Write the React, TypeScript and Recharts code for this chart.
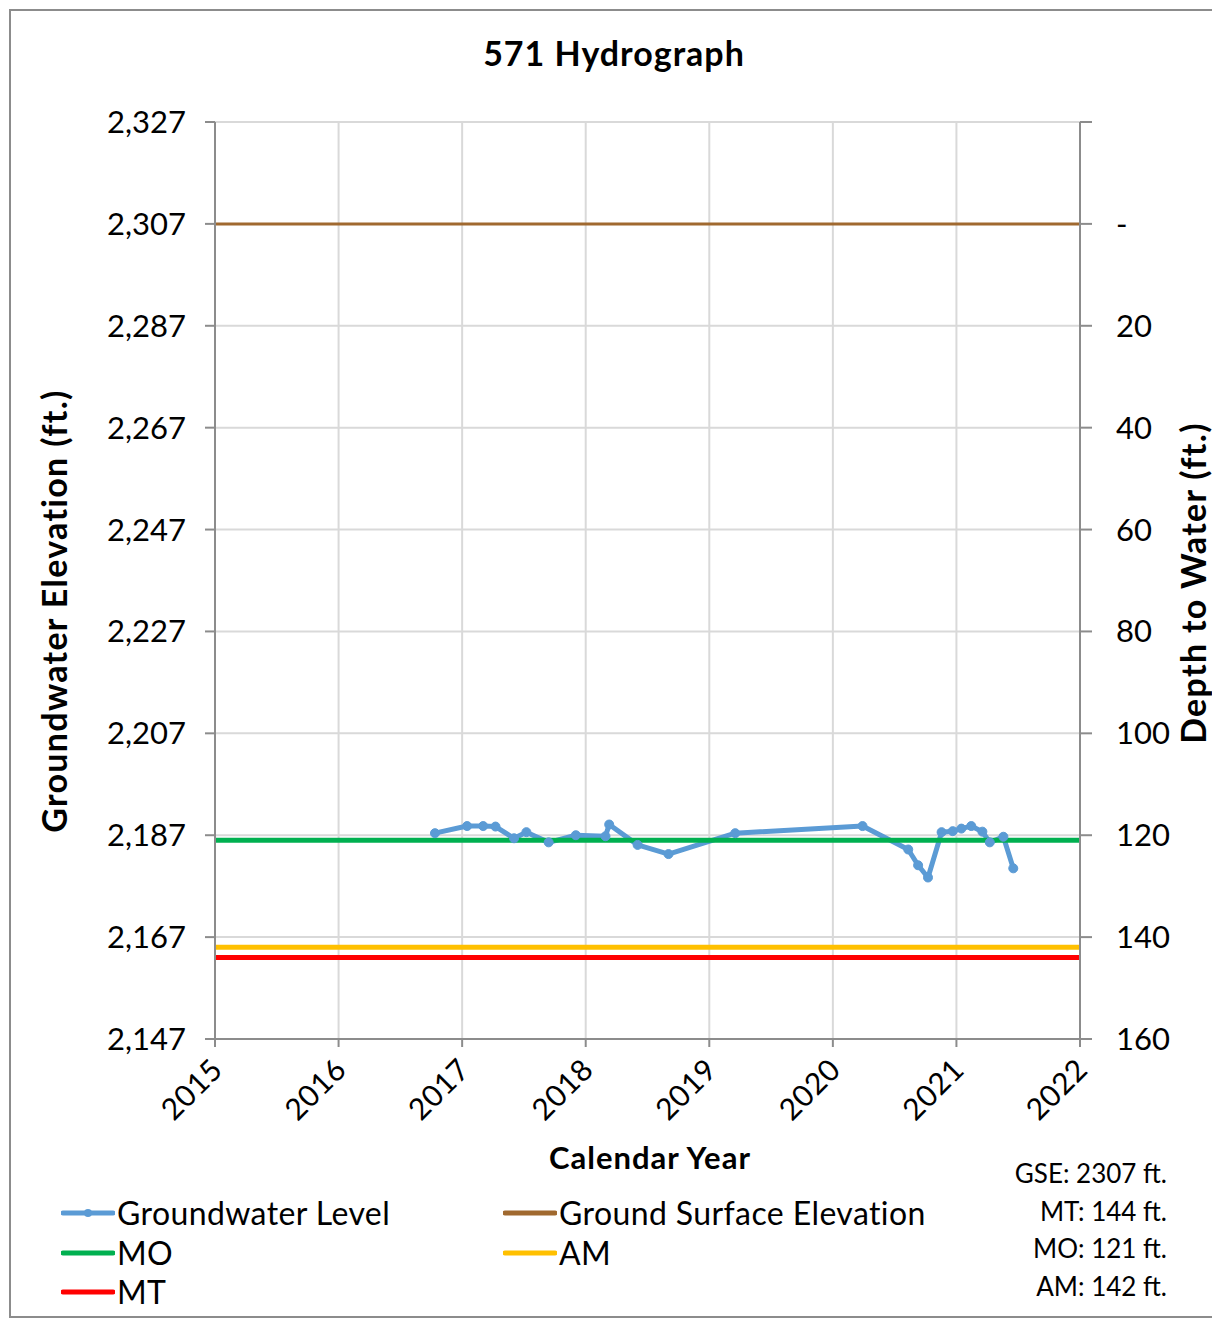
import React from "react";
import {
  ComposedChart,
  Line,
  XAxis,
  YAxis,
  CartesianGrid,
} from "recharts";

const years = [2015, 2016, 2017, 2018, 2019, 2020, 2021, 2022];
const elevTicks = [2147, 2167, 2187, 2207, 2227, 2247, 2267, 2287, 2307, 2327];
const depthTicks = [-20, 0, 20, 40, 60, 80, 100, 120, 140, 160];

// groundwater level readings (decimal year, elevation ft)
const gwYears = [
  2016.78, 2017.04, 2017.17, 2017.27, 2017.42, 2017.52, 2017.7, 2017.92,
  2018.16, 2018.19, 2018.42, 2018.67, 2019.21, 2020.24, 2020.61, 2020.69,
  2020.77, 2020.88, 2020.97, 2021.04, 2021.12, 2021.21, 2021.27, 2021.38,
  2021.46,
];
const gwElev = [
  2187.4, 2188.8, 2188.8, 2188.7, 2186.4, 2187.6, 2185.6, 2187.0,
  2186.8, 2189.1, 2185.1, 2183.3, 2187.4, 2188.8, 2184.2, 2181.1,
  2178.7, 2187.6, 2187.8, 2188.3, 2188.8, 2187.7, 2185.6, 2186.7,
  2180.5,
];

const GSE = 2307;
const MT_DEPTH = 144;
const MO_DEPTH = 121;
const AM_DEPTH = 142;

const gwData = gwYears.map((year, i) => ({ year, elev: gwElev[i] }));
const flat = (v: number) => [
  { year: years[0], v },
  { year: years[years.length - 1], v },
];

const FONT = "Lato, 'Open Sans', sans-serif";
const AXIS = "#8c8c8c";

const COLORS = {
  gw: "#5B9BD5",
  gse: "#A0692F",
  mo: "#00B050",
  am: "#FFC000",
  mt: "#FF0000",
};

function YearTick(props: any) {
  const { x, y, payload } = props;
  const ax = x + 1;
  const ay = y + 14;
  return (
    <text
      x={ax}
      y={ay}
      transform={`rotate(-45, ${ax}, ${ay})`}
      textAnchor="end"
      dominantBaseline="central"
      fontFamily={FONT}
      fontSize={30}
      letterSpacing={0.5}
      fill="#000"
    >
      {payload.value}
    </text>
  );
}

function LegendItem({
  color,
  label,
  dot,
  left,
  top,
}: {
  color: string;
  label: string;
  dot?: boolean;
  left: number;
  top: number;
}) {
  return (
    <div style={{ position: "absolute", left, top, display: "flex", alignItems: "center" }}>
      <svg width={54} height={12}>
        <line x1={2} y1={6} x2={52} y2={6} stroke={color} strokeWidth={5} strokeLinecap="round" />
        {dot && <circle cx={27} cy={6} r={4} fill={color} />}
      </svg>
      <span
        style={{
          fontFamily: FONT,
          fontSize: 32,
          letterSpacing: 0.4,
          marginLeft: 2,
          lineHeight: "36px",
        }}
      >
        {label}
      </span>
    </div>
  );
}

export default function App() {
  return (
    <div
      style={{
        position: "absolute",
        left: 0,
        top: 0,
        width: 1212,
        height: 1319,
        overflow: "hidden",
        background: "#fff",
        fontFamily: FONT,
      }}
    >
      <div
        style={{
          position: "absolute",
          left: 9,
          top: 9,
          width: 1230,
          height: 1305,
          border: `2px solid ${AXIS}`,
        }}
      />
      <div
        style={{
          position: "absolute",
          left: 0,
          top: 33,
          width: 1228,
          textAlign: "center",
          fontSize: 34,
          letterSpacing: 1,
          fontWeight: 700,
          lineHeight: "40px",
        }}
      >
        571 Hydrograph
      </div>

      <div style={{ position: "absolute", left: 0, top: 0 }}>
        <ComposedChart
          width={1212}
          height={1319}
          margin={{ top: 122, right: 0, bottom: 0, left: 0 }}
        >
          <CartesianGrid yAxisId="elev" stroke="#d9d9d9" strokeWidth={2} verticalValues={years} />
          <XAxis
            dataKey="year"
            type="number"
            domain={[2015, 2022]}
            ticks={years}
            allowDataOverflow
            height={280}
            stroke={AXIS}
            strokeWidth={2}
            tickSize={8}
            tick={<YearTick />}
            interval={0}
          />
          <YAxis
            yAxisId="elev"
            orientation="left"
            domain={[2147, 2327]}
            ticks={elevTicks}
            width={215}
            stroke={AXIS}
            strokeWidth={2}
            tickSize={10}
            tickMargin={19}
            interval={0}
            tickFormatter={(v: number) => v.toLocaleString("en-US")}
            tick={{ fill: "#000", fontSize: 31, fontFamily: FONT }}
          />
          <YAxis
            yAxisId="depth"
            orientation="right"
            domain={[-20, 160]}
            reversed
            ticks={depthTicks}
            width={132}
            stroke={AXIS}
            strokeWidth={2}
            tickSize={12}
            tickMargin={24}
            interval={0}
            tickFormatter={(v: number) => (v < 0 ? "" : v === 0 ? "-" : String(v))}
            tick={{ fill: "#000", fontSize: 31, fontFamily: FONT }}
          />
          <Line
            yAxisId="elev"
            data={flat(GSE)}
            dataKey="v"
            stroke={COLORS.gse}
            strokeWidth={3}
            dot={false}
            isAnimationActive={false}
          />
          <Line
            yAxisId="depth"
            data={flat(AM_DEPTH)}
            dataKey="v"
            stroke={COLORS.am}
            strokeWidth={5}
            dot={false}
            isAnimationActive={false}
          />
          <Line
            yAxisId="depth"
            data={flat(MT_DEPTH)}
            dataKey="v"
            stroke={COLORS.mt}
            strokeWidth={5}
            dot={false}
            isAnimationActive={false}
          />
          <Line
            yAxisId="elev"
            data={gwData}
            dataKey="elev"
            stroke={COLORS.gw}
            strokeWidth={5}
            strokeLinejoin="round"
            dot={{ r: 4.5, fill: COLORS.gw, stroke: COLORS.gw, strokeWidth: 1 }}
            isAnimationActive={false}
          />
          <Line
            yAxisId="depth"
            data={flat(MO_DEPTH)}
            dataKey="v"
            stroke={COLORS.mo}
            strokeWidth={5}
            dot={false}
            isAnimationActive={false}
          />
        </ComposedChart>
      </div>

      <div
        style={{
          position: "absolute",
          left: 53,
          top: 611,
          transform: "translate(-50%, -50%) rotate(-90deg)",
          whiteSpace: "nowrap",
          fontSize: 34,
          letterSpacing: 1.3,
          fontWeight: 700,
        }}
      >
        Groundwater Elevation (ft.)
      </div>
      <div
        style={{
          position: "absolute",
          left: 1193,
          top: 583,
          transform: "translate(-50%, -50%) rotate(-90deg)",
          whiteSpace: "nowrap",
          fontSize: 34,
          letterSpacing: 1.3,
          fontWeight: 700,
          lineHeight: "34px",
        }}
      >
        Depth to Water (ft.)
      </div>
      <div
        style={{
          position: "absolute",
          left: 650,
          top: 1157,
          transform: "translate(-50%, -50%)",
          whiteSpace: "nowrap",
          fontSize: 31,
          letterSpacing: 1,
          fontWeight: 700,
        }}
      >
        Calendar Year
      </div>

      <LegendItem color={COLORS.gw} label="Groundwater Level" dot left={61} top={1195} />
      <LegendItem color={COLORS.gse} label="Ground Surface Elevation" left={503} top={1195} />
      <LegendItem color={COLORS.mo} label="MO" left={61} top={1235} />
      <LegendItem color={COLORS.am} label="AM" left={503} top={1235} />
      <LegendItem color={COLORS.mt} label="MT" left={61} top={1274} />

      <div
        style={{
          position: "absolute",
          right: 1212 - 1167,
          top: 1155,
          textAlign: "right",
          fontSize: 26,
          lineHeight: "37.5px",
        }}
      >
        <div>GSE: {GSE} ft.</div>
        <div>MT: {MT_DEPTH} ft.</div>
        <div>MO: {MO_DEPTH} ft.</div>
        <div>AM: {AM_DEPTH} ft.</div>
      </div>
    </div>
  );
}
